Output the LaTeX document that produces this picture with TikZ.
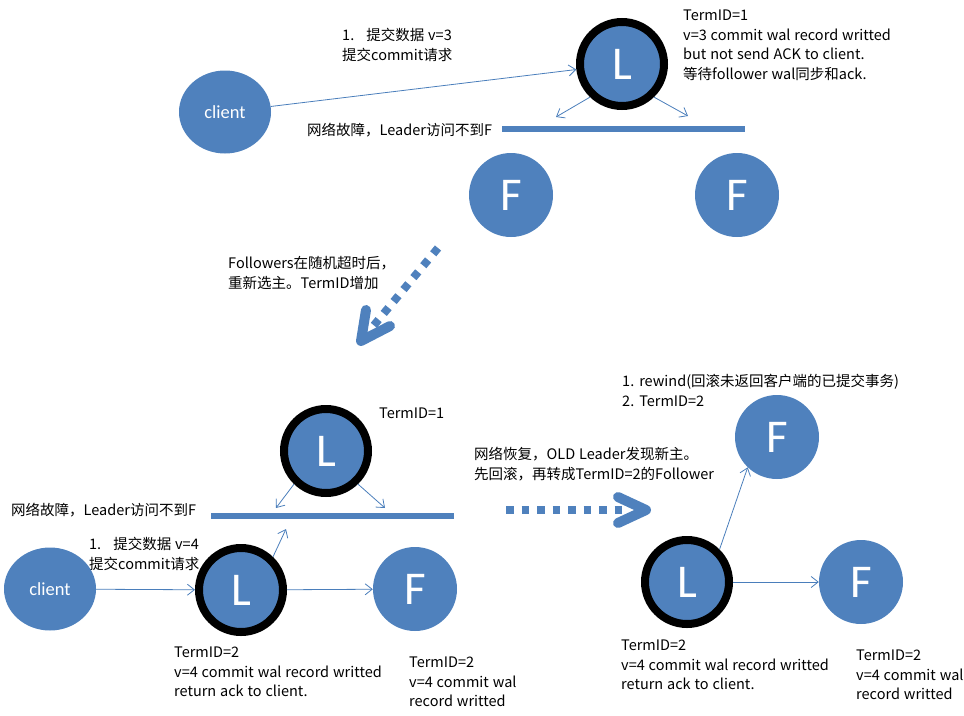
\documentclass[tikz,border=0pt]{standalone}
\usepackage{fontspec}
\setmainfont{Noto Sans CJK SC}[WordSpace=1.2]
\newfontfamily\calib{Carlito}
\usetikzlibrary{shapes.geometric,arrows.meta}
\definecolor{nodeblue}{HTML}{4F81BD}
\definecolor{lineblue}{HTML}{4A7EBB}
\newcommand{\fstrut}{\rule{0pt}{14pt}}
\begin{document}
\begin{tikzpicture}[x=1pt,y=-1pt,
  lbl/.style={anchor=north west, inner sep=0pt, align=left, font=\fontsize{14.5}{19.5}\selectfont},
  clientnode/.style={ellipse, fill=nodeblue, minimum width=92pt, minimum height=83pt, inner sep=0pt, text=white, font=\calib\fontsize{18.5}{20}\selectfont},
  leadernode/.style={circle, fill=nodeblue, draw=black, line width=8pt, minimum size=84pt, inner sep=0pt, text=white, font=\calib\fontsize{47}{50}\selectfont},
  follownode/.style={circle, fill=nodeblue, minimum size=84pt, inner sep=0pt, text=white, font=\calib\fontsize{47}{50}\selectfont},
  conn/.style={draw=lineblue, line width=0.8pt, -{Straight Barb[length=7pt,width=11pt]}},
  bar/.style={draw=nodeblue, line width=6pt},
  dotline/.style={draw=nodeblue, line width=8pt, dash pattern=on 7.5pt off 8pt},
  chev/.style={draw=nodeblue, line width=10pt, line cap=round, line join=round},
]
\useasboundingbox (0,0) rectangle (964,715);

% ---------- top panel ----------
\node[clientnode] (c1) at (225,112) {client};
\node[leadernode] (L1) at (622,64) {L};
\node[follownode] (F1) at (511,195) {F};
\node[follownode] (F2) at (737,195) {F};
\coordinate (a1) at (556,117);
\coordinate (a2) at (688,116);
\draw[conn] (c1) -- (L1);
\draw[conn] (L1.-134) -- (a1);
\draw[conn] (L1.-46) -- (a2);
\coordinate (b1s) at (502,129);
\coordinate (b1e) at (745,129);
\draw[bar] (b1s) -- (b1e);
\node[lbl] (t1) at (342,26.3) {\fstrut 1.\hspace{12pt}提交数据 v=3\\提交commit请求};
\node[lbl] (t2) at (683,6.3) {\fstrut TermID=1\\v=3 commit wal record writted\\but not send ACK to client.\\等待follower wal同步和ack.};
\node[lbl] (t3) at (307,121.3) {\fstrut 网络故障，Leader访问不到F};

% ---------- transition 1 ----------
\coordinate (d1s) at (438,248);
\coordinate (d1e) at (370,330);
\coordinate (d1t) at (361,341);
\coordinate (d1a) at (366,310);
\coordinate (d1b) at (390,326);
\draw[dotline] (d1s) -- (d1e);
\draw[chev] (d1a) -- (d1t) -- (d1b);
\node[lbl] (t4) at (228,254.3) {\fstrut Followers在随机超时后，\\重新选主。TermID增加};

% ---------- bottom-left panel ----------
\node[leadernode] (L2) at (326,451) {L};
\node[lbl] (t5) at (379,404.3) {\fstrut TermID=1};
\coordinate (a3) at (276,508);
\coordinate (a4) at (385,508);
\draw[conn] (L2.-134) -- (a3);
\draw[conn] (L2.-46) -- (a4);
\coordinate (b2s) at (211,516);
\coordinate (b2e) at (454,516);
\draw[bar] (b2s) -- (b2e);
\node[lbl] (t6) at (11,501.3) {\fstrut 网络故障，Leader访问不到F};
\node[lbl] (t7) at (89,535.3) {\fstrut 1.\hspace{12pt}提交数据 v=4\\提交commit请求};
\node[clientnode] (c2) at (50,589) {client};
\node[leadernode] (L3) at (241,590) {L};
\node[follownode] (F3) at (415,589) {F};
\coordinate (a5) at (286,529);
\draw[conn] (c2) -- (L3);
\draw[conn] (L3) -- (F3);
\draw[conn] (L3.46) -- (a5);
\node[lbl] (t8) at (174,643.3) {\fstrut TermID=2\\v=4 commit wal record writted\\return ack to client.};
\node[lbl] (t9) at (409,653.3) {\fstrut TermID=2\\v=4 commit wal\\record writted};

% ---------- transition 2 ----------
\coordinate (d2s) at (506,510);
\coordinate (d2e) at (629,510);
\coordinate (d2t) at (646,510);
\coordinate (d2a) at (618,497);
\coordinate (d2b) at (618,523);
\draw[dotline] (d2s) -- (d2e);
\draw[chev] (d2a) -- (d2t) -- (d2b);
\node[lbl] (t10) at (474,445.3) {\fstrut 网络恢复，OLD Leader发现新主。\\先回滚，再转成TermID=2的Follower};
\node[lbl] (t11) at (622,372.3) {\fstrut 1. rewind(回滚未返回客户端的已提交事务)\\2. TermID=2};

% ---------- bottom-right panel ----------
\node[follownode] (F4) at (777,437) {F};
\node[leadernode] (L4) at (687,582) {L};
\node[follownode] (F5) at (861,582) {F};
\draw[conn] (L4.45) -- (F4.-134);
\draw[conn] (L4) -- (F5);
\node[lbl] (t12) at (621,636.3) {\fstrut TermID=2\\v=4 commit wal record writted\\return ack to client.};
\node[lbl] (t13) at (856,646.3) {\fstrut TermID=2\\v=4 commit wal\\record writted};
\end{tikzpicture}
\end{document}
